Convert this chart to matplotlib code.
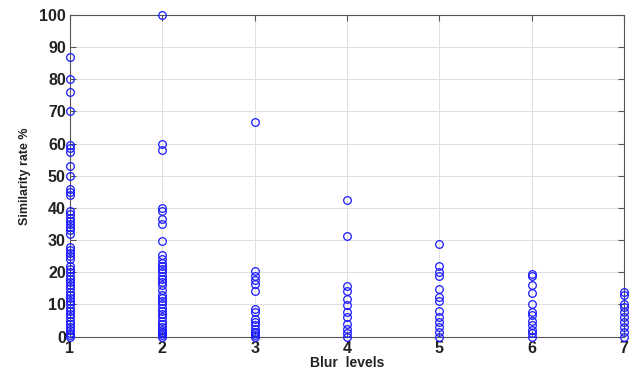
import matplotlib
matplotlib.use("Agg")
import matplotlib.pyplot as plt

plt.rcParams['font.family'] = ['Liberation Sans', 'DejaVu Sans']

# similarity rate (%) per blur level
level1 = [87, 80, 76, 70, 59.5, 58.5, 57.5, 53, 50, 46, 45, 44, 39, 38, 37, 36, 35, 34,
          33, 32, 28, 27, 26, 25, 24, 22, 21, 20, 19, 18, 17, 16, 15, 14, 13, 12, 11,
          10, 9, 8, 7, 6, 5, 4, 3, 2, 1, 0.5, 0]
level2 = [100, 60, 58, 40, 39, 36.7, 35, 29.8, 25.4, 24, 23, 22, 21, 20, 19, 18, 17, 16,
          14.5, 13, 12, 11, 10, 9, 8, 7, 6, 5, 4, 3, 2, 1.5, 1, 0.5, 0]
level3 = [66.7, 20.5, 19, 17.5, 16.4, 14.3, 8.7, 7.7, 5.6, 4.5, 3.5, 2.5, 1.5, 1, 0.5, 0]
level4 = [42.4, 31.2, 15.6, 14.3, 11.8, 9.7, 7.7, 6.2, 4, 2.5, 1, 0]
level5 = [28.8, 21.9, 20, 18.8, 14.9, 12.3, 11.2, 8.1, 6.1, 4.5, 3, 1.5, 0]
level6 = [19.5, 18.8, 16.1, 13.6, 10.2, 7.6, 6.6, 5, 3.5, 2, 1, 0]
level7 = [14, 13, 10.2, 9.2, 7.6, 6.1, 4.5, 3, 1.5, 0]

levels = [1, 2, 3, 4, 5, 6, 7]
series = [level1, level2, level3, level4, level5, level6, level7]

fig = plt.figure(figsize=(6.36, 3.72), dpi=100)
ax = fig.add_axes([0.110, 0.095, 0.871, 0.865])

for lv, vals in zip(levels, series):
    ax.plot([lv] * len(vals), vals, linestyle='none', marker='o', ms=5.5,
            mfc='none', mec='#1a1aff', mew=0.9, clip_on=False, zorder=3)

ax.set_xlim(1, 7)
ax.set_ylim(0, 100)
ax.set_xticks(levels)
ax.set_yticks(range(0, 101, 10))
ax.grid(True, color='#e0e0e0', linewidth=0.7)
ax.set_axisbelow(True)
for s in ax.spines.values():
    s.set_color('#555555')
    s.set_linewidth(0.8)
ax.tick_params(direction='in', length=4, width=0.8, color='#555555',
               labelsize=11.5, labelcolor='#222222', right=True, top=True, pad=3)
for lab in ax.get_xticklabels() + ax.get_yticklabels():
    lab.set_fontweight('bold')

ax.set_xlabel('Blur  levels', fontsize=10, fontweight='bold', color='#222222', labelpad=0)
ax.set_ylabel('Similarity rate %', fontsize=9, fontweight='bold', color='#222222', labelpad=6)

fig.savefig('out.png', dpi=100)
